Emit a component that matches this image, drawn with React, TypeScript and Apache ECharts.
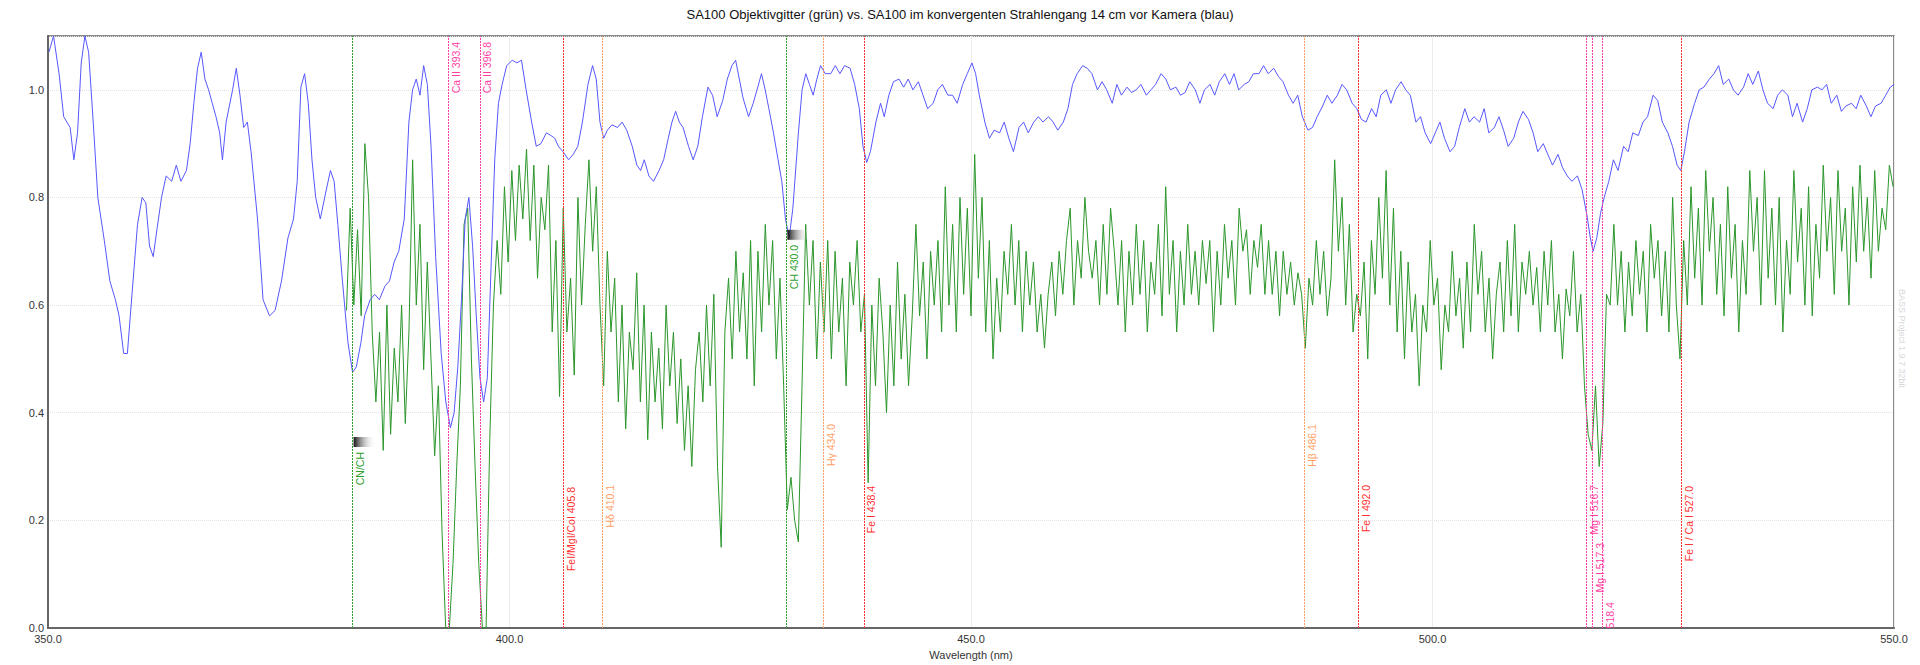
import React, { useEffect, useRef } from "react";
import * as echarts from "echarts";

const titleText =
  "SA100 Objektivgitter (grün) vs. SA100 im konvergenten Strahlengang 14 cm vor Kamera (blau)";
const xAxisName = "Wavelength (nm)";
const watermark = "BASS Project 1.9.7 32bit";

// Blue spectrum: [wavelength nm, relative intensity]
const blueSpectrum: [number, number][] = [
  [350.1, 1.07], [350.6, 1.1], [351.2, 1.03], [351.7, 0.95], [352.4, 0.93], [352.8, 0.87], [353.2, 0.92],
  [353.6, 1.05], [354.0, 1.1], [354.4, 1.07], [354.9, 0.94], [355.4, 0.8], [356.1, 0.72], [356.7, 0.645],
  [357.3, 0.61], [357.7, 0.58], [358.2, 0.51], [358.6, 0.51], [359.1, 0.62], [359.7, 0.75], [360.2, 0.8],
  [360.6, 0.79], [361.0, 0.71], [361.4, 0.69], [361.8, 0.74], [362.3, 0.8], [362.8, 0.84], [363.4, 0.83],
  [363.9, 0.86], [364.4, 0.83], [365.0, 0.85], [365.4, 0.9], [365.8, 0.975], [366.2, 1.04], [366.6, 1.07],
  [367.0, 1.02], [367.4, 1.0], [367.8, 0.975], [368.2, 0.95], [368.6, 0.92], [368.9, 0.87], [369.3, 0.94],
  [370.0, 1.0], [370.4, 1.04], [370.8, 0.99], [371.2, 0.93], [371.6, 0.94], [372.0, 0.885], [372.7, 0.76],
  [373.3, 0.61], [374.0, 0.58], [374.6, 0.59], [375.3, 0.645], [376.0, 0.725], [376.6, 0.76], [377.0, 0.83],
  [377.4, 1.005], [377.8, 1.03], [378.2, 0.975], [378.6, 0.87], [379.0, 0.8], [379.5, 0.76], [380.1, 0.81],
  [380.6, 0.85], [381.0, 0.83], [381.4, 0.75], [381.9, 0.645], [382.5, 0.53], [383.0, 0.475], [383.4, 0.485],
  [383.9, 0.53], [384.3, 0.58], [384.9, 0.61], [385.4, 0.62], [385.9, 0.61], [386.5, 0.635], [387.0, 0.645],
  [387.5, 0.68], [388.0, 0.7], [388.6, 0.76], [389.1, 0.94], [389.5, 1.0], [389.9, 1.02], [390.3, 0.99],
  [390.7, 1.045], [391.1, 1.01], [391.5, 0.895], [392.0, 0.69], [392.6, 0.51], [393.1, 0.42], [393.6, 0.372],
  [394.0, 0.4], [394.4, 0.485], [394.8, 0.61], [395.2, 0.76], [395.6, 0.8], [396.0, 0.71], [396.4, 0.58],
  [396.8, 0.465], [397.2, 0.42], [397.6, 0.465], [398.0, 0.67], [398.4, 0.87], [398.8, 0.975], [399.2, 1.01],
  [399.7, 1.045], [400.3, 1.055], [400.8, 1.05], [401.3, 1.055], [401.8, 1.0], [402.4, 0.94], [402.9, 0.895],
  [403.4, 0.9], [404.0, 0.92], [404.5, 0.915], [404.9, 0.91], [405.3, 0.895], [405.8, 0.885], [406.4, 0.87],
  [406.9, 0.88], [407.4, 0.895], [407.9, 0.94], [408.5, 1.01], [409.0, 1.045], [409.4, 1.02], [409.8, 0.94],
  [410.2, 0.91], [410.6, 0.925], [411.1, 0.935], [411.7, 0.93], [412.2, 0.94], [412.7, 0.925], [413.3, 0.895],
  [413.8, 0.86], [414.2, 0.85], [414.6, 0.87], [415.1, 0.84], [415.6, 0.83], [416.2, 0.85], [416.7, 0.87],
  [417.2, 0.91], [417.6, 0.94], [418.0, 0.96], [418.4, 0.94], [418.8, 0.93], [419.4, 0.895], [419.9, 0.87],
  [420.4, 0.895], [420.9, 0.95], [421.5, 1.005], [422.0, 0.99], [422.5, 0.95], [423.1, 0.98], [423.6, 1.02],
  [424.1, 1.045], [424.5, 1.055], [424.9, 1.02], [425.3, 0.985], [425.9, 0.95], [426.4, 0.975], [426.9, 1.005],
  [427.3, 1.03], [427.7, 1.0], [428.1, 0.965], [428.6, 0.92], [429.1, 0.87], [429.5, 0.83], [429.9, 0.76],
  [430.3, 0.725], [430.7, 0.78], [431.3, 0.92], [431.7, 1.0], [432.1, 1.03], [432.5, 1.01], [432.9, 0.99],
  [433.3, 1.02], [433.7, 1.045], [434.2, 1.03], [434.8, 1.03], [435.3, 1.045], [435.8, 1.03], [436.3, 1.045],
  [436.9, 1.04], [437.4, 1.01], [437.9, 0.965], [438.3, 0.895], [438.7, 0.865], [439.1, 0.885], [439.7, 0.94],
  [440.2, 0.975], [440.6, 0.95], [441.1, 0.99], [441.6, 1.015], [442.2, 1.02], [442.7, 1.005], [443.2, 1.02],
  [443.7, 1.0], [444.3, 1.015], [444.8, 0.99], [445.3, 0.965], [445.9, 0.975], [446.4, 1.0], [446.9, 1.01],
  [447.5, 0.99], [448.0, 0.99], [448.5, 0.975], [449.1, 1.01], [449.6, 1.03], [450.1, 1.05], [450.5, 1.03],
  [450.9, 0.99], [451.5, 0.94], [452.0, 0.91], [452.5, 0.925], [453.1, 0.92], [453.6, 0.94], [454.1, 0.91],
  [454.6, 0.885], [455.2, 0.93], [455.7, 0.94], [456.2, 0.92], [456.8, 0.94], [457.3, 0.95], [457.8, 0.94],
  [458.4, 0.95], [458.9, 0.94], [459.4, 0.925], [460.0, 0.94], [460.5, 0.965], [461.0, 1.01], [461.5, 1.03],
  [462.1, 1.045], [462.6, 1.04], [463.1, 1.03], [463.7, 1.0], [464.2, 1.015], [464.7, 1.0], [465.3, 0.975],
  [465.8, 1.01], [466.3, 0.99], [466.9, 1.005], [467.4, 0.995], [467.9, 1.0], [468.4, 1.01], [469.0, 0.99],
  [469.5, 1.0], [470.0, 1.01], [470.6, 1.03], [471.1, 1.02], [471.6, 1.0], [472.2, 1.005], [472.7, 0.99],
  [473.2, 0.995], [473.7, 1.015], [474.3, 1.0], [474.8, 0.975], [475.3, 1.0], [475.9, 1.01], [476.4, 0.99],
  [476.9, 1.015], [477.5, 1.03], [478.0, 1.01], [478.5, 1.03], [479.0, 1.0], [479.6, 1.01], [480.1, 1.015],
  [480.6, 1.03], [481.2, 1.03], [481.7, 1.045], [482.2, 1.03], [482.8, 1.04], [483.3, 1.025], [483.8, 1.015],
  [484.4, 0.99], [484.9, 0.975], [485.4, 0.99], [485.9, 0.95], [486.5, 0.925], [487.0, 0.93], [487.5, 0.95],
  [488.1, 0.97], [488.6, 0.99], [489.1, 0.975], [489.7, 0.99], [490.2, 1.01], [490.7, 1.0], [491.3, 0.975],
  [491.8, 0.965], [492.3, 0.945], [492.8, 0.94], [493.4, 0.965], [493.9, 0.95], [494.4, 0.99], [495.0, 1.0],
  [495.5, 0.975], [496.0, 1.0], [496.6, 1.015], [497.1, 1.0], [497.6, 0.99], [498.2, 0.94], [498.7, 0.95],
  [499.2, 0.92], [499.8, 0.9], [500.3, 0.92], [500.8, 0.94], [501.3, 0.91], [501.9, 0.885], [502.4, 0.895],
  [502.9, 0.93], [503.5, 0.965], [504.0, 0.94], [504.5, 0.95], [505.1, 0.94], [505.6, 0.965], [506.1, 0.92],
  [506.7, 0.93], [507.2, 0.95], [507.7, 0.925], [508.2, 0.895], [508.8, 0.91], [509.3, 0.94], [509.8, 0.96],
  [510.4, 0.945], [510.9, 0.92], [511.4, 0.885], [512.0, 0.9], [512.5, 0.88], [513.0, 0.86], [513.6, 0.88],
  [514.1, 0.855], [514.6, 0.84], [515.1, 0.83], [515.7, 0.84], [516.2, 0.815], [516.7, 0.77], [517.1, 0.725],
  [517.4, 0.7], [517.8, 0.725], [518.2, 0.77], [518.6, 0.8], [519.1, 0.83], [519.6, 0.87], [520.1, 0.85],
  [520.7, 0.895], [521.2, 0.885], [521.7, 0.92], [522.3, 0.915], [522.8, 0.94], [523.3, 0.95], [523.9, 0.99],
  [524.4, 0.98], [524.9, 0.94], [525.5, 0.92], [526.0, 0.895], [526.5, 0.86], [526.9, 0.85], [527.3, 0.885],
  [527.8, 0.94], [528.4, 0.975], [528.9, 1.0], [529.4, 1.005], [530.0, 1.02], [530.5, 1.03], [531.0, 1.045],
  [531.5, 1.01], [532.1, 1.02], [532.6, 1.0], [533.1, 0.99], [533.7, 1.005], [534.2, 1.03], [534.7, 1.01],
  [535.3, 1.035], [535.8, 1.0], [536.3, 0.975], [536.9, 0.965], [537.4, 0.99], [537.9, 1.0], [538.5, 0.99],
  [539.0, 0.95], [539.5, 0.975], [540.1, 0.94], [540.6, 0.965], [541.1, 1.0], [541.7, 1.005], [542.2, 1.0],
  [542.7, 1.01], [543.2, 0.975], [543.8, 0.99], [544.3, 0.96], [544.8, 0.97], [545.4, 0.975], [545.9, 0.965],
  [546.4, 0.99], [547.0, 0.97], [547.5, 0.95], [548.0, 0.97], [548.6, 0.975], [549.1, 0.99], [549.6, 1.005],
  [550.0, 1.01],
];

// Green spectrum: uniformly sampled from greenStart with greenStep (nm)
const greenStart = 382.34;
const greenStep = 0.398;
const greenValues: number[] = [
  0.59, 0.78, 0.6, 0.74, 0.58, 0.9, 0.8, 0.55, 0.42, 0.55, 0.33, 0.6, 0.36, 0.52, 0.42, 0.6, 0.38, 0.55, 0.87, 0.6,
  0.75, 0.48, 0.68, 0.5, 0.32, 0.45, 0.18, 0.0, 0.0, 0.12, 0.3, 0.45, 0.75, 0.78, 0.5, 0.3, 0.12, 0.0, 0.0, 0.35,
  0.6, 0.72, 0.62, 0.82, 0.68, 0.85, 0.72, 0.86, 0.76, 0.89, 0.72, 0.86, 0.65, 0.8, 0.74, 0.86, 0.55, 0.72, 0.43, 0.78,
  0.55, 0.65, 0.47, 0.8, 0.6, 0.75, 0.87, 0.7, 0.82, 0.6, 0.45, 0.7, 0.55, 0.65, 0.42, 0.6, 0.37, 0.55, 0.48, 0.66,
  0.42, 0.6, 0.35, 0.55, 0.42, 0.52, 0.37, 0.6, 0.45, 0.55, 0.38, 0.5, 0.33, 0.45, 0.3, 0.48, 0.55, 0.42, 0.6, 0.45,
  0.62, 0.3, 0.15, 0.55, 0.65, 0.5, 0.7, 0.55, 0.66, 0.5, 0.72, 0.45, 0.7, 0.55, 0.75, 0.6, 0.72, 0.5, 0.65, 0.45,
  0.22, 0.28, 0.2, 0.16, 0.45, 0.75, 0.6, 0.72, 0.5, 0.68, 0.55, 0.72, 0.5, 0.7, 0.55, 0.65, 0.45, 0.68, 0.6, 0.72,
  0.55, 0.62, 0.27, 0.6, 0.45, 0.65, 0.55, 0.4, 0.6, 0.45, 0.68, 0.5, 0.62, 0.45, 0.58, 0.75, 0.58, 0.68, 0.5, 0.7,
  0.6, 0.72, 0.55, 0.82, 0.6, 0.75, 0.55, 0.8, 0.62, 0.78, 0.58, 0.88, 0.65, 0.8, 0.55, 0.72, 0.5, 0.65, 0.55, 0.7,
  0.62, 0.75, 0.6, 0.72, 0.55, 0.7, 0.6, 0.68, 0.55, 0.62, 0.52, 0.62, 0.68, 0.58, 0.7, 0.62, 0.72, 0.78, 0.6, 0.72,
  0.65, 0.8, 0.7, 0.65, 0.72, 0.6, 0.75, 0.62, 0.78, 0.7, 0.6, 0.72, 0.55, 0.7, 0.6, 0.75, 0.62, 0.72, 0.55, 0.68,
  0.62, 0.75, 0.58, 0.82, 0.62, 0.72, 0.55, 0.7, 0.6, 0.75, 0.62, 0.7, 0.6, 0.72, 0.64, 0.72, 0.55, 0.7, 0.6, 0.75,
  0.65, 0.72, 0.6, 0.78, 0.7, 0.74, 0.62, 0.72, 0.67, 0.75, 0.62, 0.72, 0.62, 0.7, 0.58, 0.7, 0.62, 0.68, 0.6, 0.66,
  0.62, 0.52, 0.65, 0.6, 0.72, 0.62, 0.7, 0.58, 0.65, 0.87, 0.7, 0.8, 0.6, 0.75, 0.55, 0.62, 0.58, 0.68, 0.5, 0.72,
  0.62, 0.8, 0.65, 0.85, 0.6, 0.78, 0.55, 0.7, 0.5, 0.68, 0.55, 0.62, 0.45, 0.6, 0.55, 0.72, 0.6, 0.65, 0.48, 0.6,
  0.55, 0.7, 0.58, 0.65, 0.52, 0.68, 0.55, 0.75, 0.62, 0.7, 0.55, 0.65, 0.5, 0.62, 0.68, 0.55, 0.72, 0.58, 0.75, 0.55,
  0.68, 0.62, 0.7, 0.6, 0.67, 0.55, 0.7, 0.6, 0.72, 0.55, 0.62, 0.5, 0.63, 0.58, 0.7, 0.55, 0.62, 0.45, 0.36, 0.33,
  0.45, 0.3, 0.38, 0.62, 0.6, 0.75, 0.6, 0.7, 0.55, 0.68, 0.58, 0.72, 0.62, 0.7, 0.55, 0.75, 0.65, 0.72, 0.58, 0.7,
  0.55, 0.8, 0.6, 0.5, 0.72, 0.6, 0.82, 0.65, 0.78, 0.6, 0.85, 0.7, 0.8, 0.62, 0.75, 0.58, 0.82, 0.65, 0.75, 0.55,
  0.72, 0.62, 0.85, 0.7, 0.8, 0.6, 0.85, 0.65, 0.78, 0.6, 0.8, 0.55, 0.72, 0.62, 0.85, 0.68, 0.78, 0.6, 0.82, 0.58,
  0.75, 0.65, 0.86, 0.7, 0.8, 0.62, 0.85, 0.7, 0.78, 0.6, 0.82, 0.68, 0.86, 0.7, 0.8, 0.65, 0.85, 0.7, 0.78, 0.74,
  0.86, 0.82,
];

// Spectral line markers
const markerWavelengths = [383.0, 393.4, 396.8, 405.8, 410.1, 430.0, 434.0, 438.4, 486.1, 492.0, 516.7, 517.3, 518.4, 527.0];
const markerLabels = [
  "CN/CH", "Ca II 393.4", "Ca II 396.8", "FeI/MgI/CoI 405.8", "Hδ 410.1", "CH 430.0", "Hγ 434.0",
  "Fe I 438.4", "Hβ 486.1", "Fe I 492.0", "Mg I 516.7", "Mg I 517.3", "Mg I 518.4", "Fe I / Ca I 527.0",
];
const markerKinds = ["band", "ion", "ion", "metal", "hydrogen", "band", "hydrogen", "metal", "hydrogen", "metal", "ion", "ion", "ion", "metal"];
// label top anchor, in intensity units
const markerLabelTops = [0.327, 1.089, 1.089, 0.262, 0.266, 0.712, 0.379, 0.264, 0.379, 0.266, 0.266, 0.158, 0.048, 0.264];

const kindColors: Record<string, string> = {
  band: "#2ea02e",
  ion: "#ff3fa4",
  metal: "#ff3030",
  hydrogen: "#ffa066",
};

const FONT = '"Liberation Sans", Arial, sans-serif';

export default function App() {
  const ref = useRef<HTMLDivElement>(null);
  useEffect(() => {
    if (!ref.current) return;
    const chart = echarts.init(ref.current, undefined, { renderer: "svg" });
    const greenData = greenValues.map((v, i) => [greenStart + i * greenStep, v]);
    chart.setOption({
      animation: false,
      backgroundColor: "#ffffff",
      title: {
        text: titleText,
        left: "center",
        top: 3,
        textStyle: { fontFamily: FONT, fontSize: 13, fontWeight: "normal", color: "#111" },
      },
      grid: { left: 48, right: 26, top: 36, bottom: 36, show: true, borderColor: "#666", borderWidth: 1.5 },
      xAxis: {
        type: "value",
        min: 350,
        max: 550,
        interval: 50,
        name: xAxisName,
        nameLocation: "middle",
        nameGap: 21,
        nameTextStyle: { fontFamily: FONT, fontSize: 11, color: "#333" },
        axisLine: { show: true, lineStyle: { color: "#666", width: 2 } },
        axisTick: { show: false },
        axisLabel: { fontFamily: FONT, fontSize: 11, color: "#333", margin: 5, formatter: (v: number) => v.toFixed(1) },
        splitLine: { show: true, lineStyle: { color: "#ececec", width: 1 } },
      },
      yAxis: {
        type: "value",
        min: 0,
        max: 1.1,
        interval: 0.2,
        axisLine: { show: true, lineStyle: { color: "#666", width: 2 } },
        axisTick: { show: false },
        axisLabel: {
          fontFamily: FONT,
          fontSize: 11,
          color: "#333",
          margin: 4,
          showMaxLabel: false,
          formatter: (v: number) => v.toFixed(1),
        },
        splitLine: { show: true, lineStyle: { color: "#e2e2e2", type: "dotted", width: 1 } },
      },
      series: [
        {
          type: "line",
          name: "green",
          data: greenData,
          showSymbol: false,
          symbol: "none",
          lineStyle: { color: "#2b962b", width: 1 },
          z: 2,
          markLine: {
            silent: true,
            symbol: "none",
            label: { show: false },
            animation: false,
            data: markerWavelengths.map((wl, i) => ({
              xAxis: wl,
              lineStyle: { color: kindColors[markerKinds[i]], width: 1, type: [2, 1] },
            })),
          },
        },
        {
          type: "line",
          name: "blue",
          data: blueSpectrum,
          showSymbol: false,
          symbol: "none",
          lineStyle: { color: "#5757ff", width: 1 },
          z: 3,
        },
      ],
    });

    const px = (wl: number) => chart.convertToPixel({ xAxisIndex: 0 }, wl) as number;
    const py = (v: number) => chart.convertToPixel({ yAxisIndex: 0 }, v) as number;
    const bottom = py(0);
    const right = px(550);
    const canvas = document.createElement("canvas");
    const ctx = canvas.getContext("2d");
    const fontSize = 10.5;
    if (ctx) ctx.font = `${fontSize}px "Liberation Sans"`;
    const elements: any[] = [];
    markerWavelengths.forEach((wl, i) => {
      const x = px(wl);
      const top = py(markerLabelTops[i]);
      const color = kindColors[markerKinds[i]];
      elements.push({
        type: "text",
        x: x + 2,
        y: top,
        rotation: Math.PI / 2,
        silent: true,
        z: 10,
        style: {
          text: markerLabels[i],
          fill: color,
          fontFamily: FONT,
          fontSize,
          align: "right",
          verticalAlign: "top",
        },
      });
      if (markerKinds[i] === "band") {
        elements.push({
          type: "rect",
          shape: { x: x + 1, y: top - 15, width: 22, height: 10 },
          silent: true,
          z: 10,
          style: {
            fill: new echarts.graphic.LinearGradient(0, 0, 1, 0, [
              { offset: 0, color: "rgba(20,20,20,1)" },
              { offset: 1, color: "rgba(255,255,255,0)" },
            ]),
          },
        });
      }
      const w = ctx ? ctx.measureText(markerLabels[i]).width : markerLabels[i].length * 6;
      if (top + w > bottom) {
        elements.push({
          type: "rect",
          shape: { x: x + 1, y: bottom + 1.5, width: 14, height: top + w - bottom + 4 },
          silent: true,
          z: 11,
          style: { fill: "#ffffff" },
        });
      }
    });
    elements.push({
      type: "text",
      x: right + 3,
      y: py(0.63),
      rotation: -Math.PI / 2,
      silent: true,
      z: 10,
      style: {
        text: watermark,
        fill: "#d8d8d8",
        fontFamily: FONT,
        fontSize: 9,
        align: "left",
        verticalAlign: "bottom",
      },
    });
    chart.setOption({ graphic: elements });

    return () => chart.dispose();
  }, []);
  return (
    <div
      ref={ref}
      style={{ position: "absolute", left: 0, top: 0, width: 1920, height: 665, background: "#fff" }}
    />
  );
}
